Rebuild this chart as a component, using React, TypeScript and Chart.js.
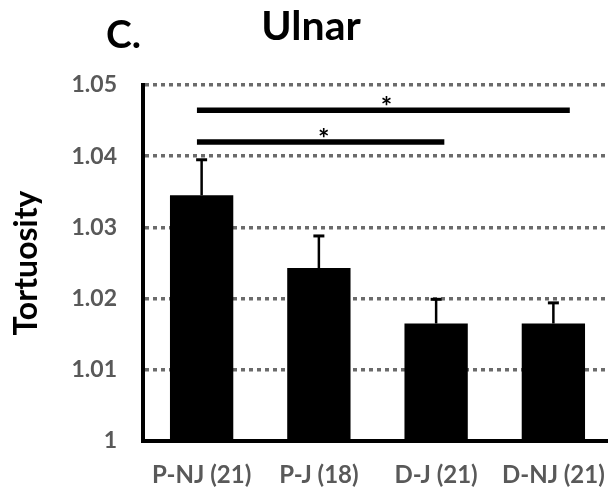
import React, { useEffect, useRef } from 'react';
import { Chart, registerables } from 'chart.js';

Chart.register(...registerables);

const categories = ['P-NJ (21)', 'P-J (18)', 'D-J (21)', 'D-NJ (21)'];
const meanValues = [1.0345, 1.0243, 1.0165, 1.0165];
const errorValues = [0.005, 0.0045, 0.0034, 0.0029];
const yTickLabels = ['1', '1.01', '1.02', '1.03', '1.04', '1.05'];
const bracketFrom = [-0.04, -0.04];
const bracketTo = [2.07, 3.14];
const bracketLevel = [1.042, 1.04645];
const bracketMarks = ['*', '*'];
const panelLabel = 'C.';
const chartTitle = 'Ulnar';
const yAxisTitle = 'Tortuosity';

const FONT = 'Lato, "Open Sans", sans-serif';

const overlay = {
  id: 'overlay',
  afterDatasetsDraw(chart: any) {
    const { ctx } = chart;
    const xs = chart.scales.x;
    const ys = chart.scales.y;
    ctx.save();
    ctx.strokeStyle = '#000';
    ctx.lineCap = 'butt';
    meanValues.forEach((m, i) => {
      const cx = xs.getPixelForValue(i);
      const yTop = ys.getPixelForValue(m);
      const yErr = ys.getPixelForValue(m + errorValues[i]);
      ctx.lineWidth = 2.5;
      ctx.beginPath();
      ctx.moveTo(cx, yTop);
      ctx.lineTo(cx, yErr);
      ctx.stroke();
      ctx.lineWidth = 3;
      ctx.beginPath();
      ctx.moveTo(cx - 5.5, yErr);
      ctx.lineTo(cx + 5.5, yErr);
      ctx.stroke();
    });
    bracketLevel.forEach((lvl, k) => {
      const x0 = xs.getPixelForValue(bracketFrom[k]);
      const x1 = xs.getPixelForValue(bracketTo[k]);
      const yy = ys.getPixelForValue(lvl);
      ctx.lineWidth = 5.5;
      ctx.beginPath();
      ctx.moveTo(x0, yy);
      ctx.lineTo(x1, yy);
      ctx.stroke();
      ctx.fillStyle = '#000';
      ctx.font = `bold 27px ${FONT}`;
      ctx.textAlign = 'center';
      ctx.textBaseline = 'alphabetic';
      ctx.fillText(bracketMarks[k], (x0 + x1) / 2 + 3, yy + 6);
    });
    ctx.restore();
  },
  afterDraw(chart: any) {
    const { ctx } = chart;
    ctx.save();
    ctx.fillStyle = '#000';
    ctx.textBaseline = 'alphabetic';
    ctx.font = `bold 39px ${FONT}`;
    ctx.textAlign = 'left';
    ctx.fillText(panelLabel, 106, 48);
    ctx.font = `bold 41px ${FONT}`;
    ctx.textAlign = 'center';
    ctx.fillText(chartTitle, 311, 40);
    ctx.translate(37, (chart.chartArea.top + chart.chartArea.bottom) / 2);
    ctx.rotate(-Math.PI / 2);
    ctx.font = `bold 32px ${FONT}`;
    ctx.textAlign = 'center';
    ctx.fillText(yAxisTitle, 0, 0);
    ctx.restore();
  },
};

export default function App() {
  const ref = useRef<HTMLCanvasElement | null>(null);
  useEffect(() => {
    if (!ref.current) return;
    const chart = new Chart(ref.current, {
      type: 'bar',
      data: {
        labels: categories,
        datasets: [
          {
            data: meanValues,
            backgroundColor: '#000',
            borderWidth: 0,
            categoryPercentage: 1,
            barPercentage: 0.54,
          },
        ],
      },
      options: {
        animation: false,
        responsive: false,
        devicePixelRatio: 1,
        layout: { padding: { left: 0, right: 18, top: 85, bottom: 0 } },
        plugins: {
          legend: { display: false },
          title: { display: false },
          tooltip: { enabled: false },
        },
        scales: {
          x: {
            grid: { display: false, drawTicks: false },
            border: { display: true, color: '#000', width: 4 },
            ticks: {
              color: '#595959',
              font: { family: FONT, size: 24, weight: 'bold' },
              padding: 20,
              maxRotation: 0,
              autoSkip: false,
            },
            afterFit: (s: any) => {
              s.height = 56;
            },
          },
          y: {
            min: 1,
            max: 1.05,
            grid: {
              drawTicks: false,
              color: (c: any) => (c.index === 0 ? 'rgba(0,0,0,0)' : '#6b6b6b'),
              lineWidth: 3.5,
            },
            border: { display: true, color: '#000', width: 4, dash: [4, 4] },
            ticks: {
              stepSize: 0.01,
              color: '#595959',
              font: { family: FONT, size: 23, weight: 'bold' },
              padding: 26,
              callback: (_v: any, i: number) => yTickLabels[i],
            },
            afterFit: (s: any) => {
              s.width = 143;
            },
          },
        },
      },
      plugins: [overlay],
    });
    return () => chart.destroy();
  }, []);
  return (
    <div
      style={{
        position: 'fixed',
        left: 0,
        top: 0,
        width: 608,
        height: 497,
        overflow: 'hidden',
        background: '#fff',
      }}
    >
      <canvas ref={ref} width={630} height={497} style={{ width: 630, height: 497, display: 'block' }} />
    </div>
  );
}
